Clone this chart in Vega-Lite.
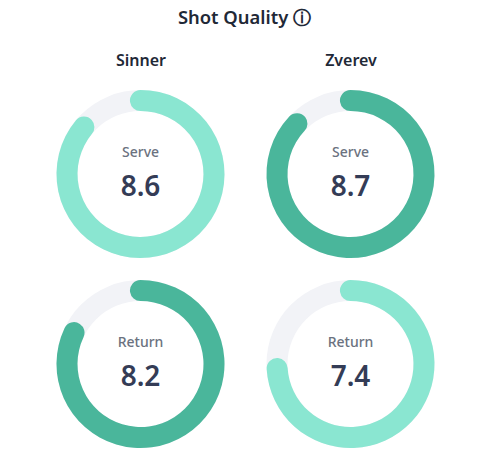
{
"$schema":"https://vega.github.io/schema/vega-lite/v6.json",
"width":485,"height":394,
"autosize":"none",
"padding":{"top":70,"left":0,"right":0,"bottom":0},
"background":"white",
"view":{"stroke":null},
"title":{"text":"Shot Quality ⓘ","anchor":"middle","dx":2,"font":"Noto Sans","fontSize":18.4,"fontWeight":600,"color":"#1f2937","offset":25},
"data":{"values":[
{"player":"Sinner","metric":"Serve","score":8.6,"level":"lower"},
{"player":"Zverev","metric":"Serve","score":8.7,"level":"higher"},
{"player":"Sinner","metric":"Return","score":8.2,"level":"higher"},
{"player":"Zverev","metric":"Return","score":7.4,"level":"lower"}
]},
"encoding":{
"x":{"field":"player","type":"nominal","sort":["Sinner","Zverev"],"scale":{"type":"point","padding":0,"domain":["Sinner","Zverev"],"range":[140.5,350.5]},
"axis":{"orient":"top","title":null,"domain":false,"ticks":false,"labelAngle":0,"labelFont":"Noto Sans","labelFontSize":16,"labelFontWeight":600,"labelColor":"#1f2937","labelPadding":2,"offset":0,"grid":false}},
"y":{"field":"metric","type":"nominal","scale":{"type":"point","padding":0,"domain":["Serve","Return"],"range":[104,294]},"axis":null}
},
"layer":[
{"mark":{"type":"arc","innerRadius":63,"outerRadius":84,"color":"#f2f3f7"},
 "encoding":{"theta":{"datum":10,"type":"quantitative","scale":{"domain":[0,10],"range":[0,6.2832]},"stack":null},"theta2":{"datum":0}}},
{"mark":{"type":"arc","innerRadius":63,"outerRadius":84,"cornerRadius":10.5,"thetaOffset":0.144,"theta2Offset":-0.144},
 "encoding":{"theta":{"field":"score","type":"quantitative","scale":{"domain":[0,10],"range":[0,6.2832]},"stack":null},"theta2":{"datum":0},
 "color":{"field":"level","type":"nominal","scale":{"domain":["lower","higher"],"range":["#8ae6d1","#4ab69b"]},"legend":null}}},
{"mark":{"type":"text","font":"Noto Sans","fontSize":14,"fontWeight":500,"color":"#6b7280","dy":-21},"encoding":{"text":{"field":"metric"}}},
{"mark":{"type":"text","font":"Noto Sans","fontSize":28,"fontWeight":600,"color":"#343c56","dy":14},"encoding":{"text":{"field":"score","type":"quantitative","format":".1f"}}}
]
}
